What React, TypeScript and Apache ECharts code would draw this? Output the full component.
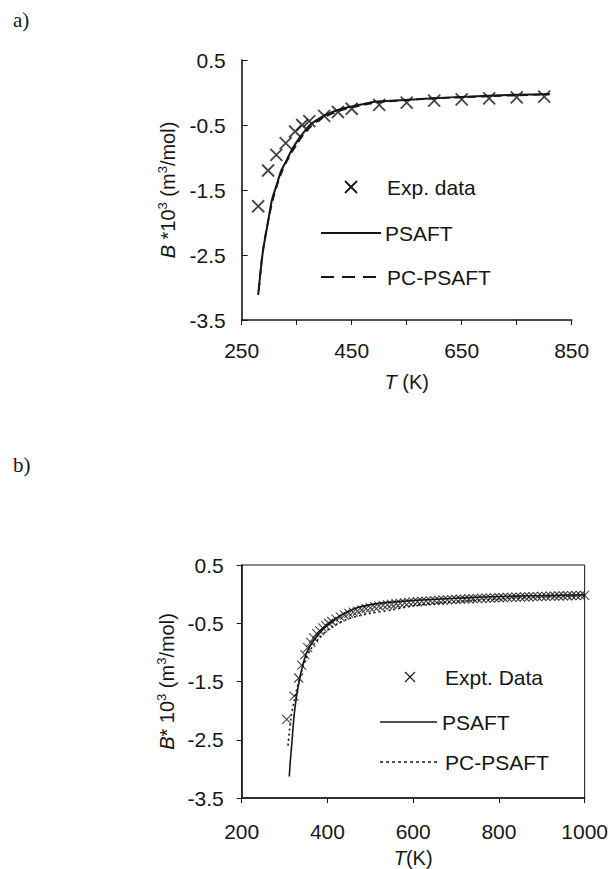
import React, { useEffect, useRef } from "react";
import * as echarts from "echarts";

// ---------- Panel a ----------
const aExpT = [280, 298, 313, 330, 347, 360, 373, 400, 425, 450, 500, 550, 600, 650, 700, 750, 800];
const aExpB = [-1.75, -1.2, -0.96, -0.78, -0.6, -0.5, -0.44, -0.36, -0.3, -0.25, -0.19, -0.155, -0.125, -0.105, -0.09, -0.075, -0.065];
const aPsaftT = [280, 285, 289, 298.5, 305, 313.6, 322, 331.8, 340, 350, 362, 374, 387, 401.5, 425, 447, 470, 495.5, 568, 630, 689, 750, 810];
const aPsaftB = [-3.115, -2.7, -2.42, -1.96, -1.65, -1.42, -1.2, -1.04, -0.9, -0.76, -0.62, -0.5, -0.42, -0.35, -0.27, -0.22, -0.18, -0.14, -0.105, -0.075, -0.054, -0.035, -0.023];
const aPcT = [281, 286, 291, 300, 307, 315, 323, 332, 341, 350, 362, 375, 388, 400, 425, 450, 475, 500, 550, 600, 700, 810];
const aPcB = [-3.05, -2.6, -2.3, -1.9, -1.64, -1.41, -1.22, -1.06, -0.92, -0.8, -0.65, -0.53, -0.44, -0.38, -0.29, -0.23, -0.185, -0.15, -0.115, -0.09, -0.058, -0.03];

// ---------- Panel b ----------
const bExpT = [305, 322, 333, 340, 347, 354, 361, 368, 375, 382, 389, 396, 403, 410, 420, 430, 440, 450, 460, 470, 480, 490, 500, 510, 520, 530, 540, 550, 560, 570, 580, 590, 600, 610, 620, 630, 640, 650, 660, 670, 680, 690, 700, 710, 720, 730, 740, 750, 760, 770, 780, 790, 800, 810, 820, 830, 840, 850, 860, 870, 880, 890, 900, 910, 920, 930, 940, 950, 960, 970, 980, 990, 1000];
const bExpB = [-2.15, -1.75, -1.44, -1.22, -1.04, -0.92, -0.83, -0.75, -0.68, -0.63, -0.58, -0.54, -0.5, -0.47, -0.43, -0.39, -0.36, -0.33, -0.31, -0.29, -0.27, -0.25, -0.235, -0.22, -0.205, -0.195, -0.185, -0.175, -0.165, -0.158, -0.15, -0.143, -0.137, -0.131, -0.126, -0.121, -0.116, -0.111, -0.107, -0.103, -0.099, -0.095, -0.091, -0.088, -0.085, -0.082, -0.079, -0.076, -0.073, -0.07, -0.067, -0.064, -0.062, -0.059, -0.057, -0.055, -0.052, -0.05, -0.048, -0.046, -0.044, -0.042, -0.04, -0.038, -0.036, -0.034, -0.032, -0.03, -0.028, -0.026, -0.024, -0.022, -0.02];
const bPsaftT = [311, 313, 316.5, 322, 328, 334, 340, 347, 355, 365, 375, 390, 406, 430, 452, 480, 530, 608, 700, 763, 850, 1000];
const bPsaftB = [-3.13, -2.9, -2.6, -2.1, -1.75, -1.5, -1.29, -1.1, -0.95, -0.83, -0.73, -0.6, -0.5, -0.37, -0.28, -0.21, -0.15, -0.105, -0.07, -0.05, -0.033, -0.012];
const bPcT = [308, 312, 316, 322, 328, 335, 342, 350, 360, 370, 385, 400, 425, 450, 475, 500, 550, 600, 650, 700, 800, 900, 1000];
const bPcB = [-2.6, -2.3, -2.07, -1.85, -1.64, -1.45, -1.27, -1.1, -0.96, -0.85, -0.72, -0.62, -0.5, -0.42, -0.37, -0.33, -0.27, -0.2, -0.16, -0.13, -0.08, -0.05, -0.03];

const xTicksA = { min: 250, max: 850, interval: 200 };
const yTicks = { min: -3.5, max: 0.5, interval: 1 };
const xTicksB = { min: 200, max: 1000, interval: 200 };

const zip = (xs: number[], ys: number[]) => xs.map((x, i) => [x, ys[i]]);

const INK = "#161616";
const SANS = '"Liberation Sans", Arial, sans-serif';
const SERIF = '"Liberation Serif", "Times New Roman", serif';
const CROSS = "path://M0,0L10,10M10,0L0,10";

const richName = {
  i: { fontStyle: "italic", fontSize: 20, fontFamily: SANS, color: INK, lineHeight: 24 },
  n: { fontSize: 20, fontFamily: SANS, color: INK, lineHeight: 24 },
  s: { fontSize: 13, fontFamily: SANS, color: INK, lineHeight: 13, verticalAlign: "top" },
};

function legendCross(cx: number, cy: number, h: number, w: number) {
  return [
    { type: "line", shape: { x1: cx - h, y1: cy - h, x2: cx + h, y2: cy + h }, style: { stroke: INK, lineWidth: w } },
    { type: "line", shape: { x1: cx - h, y1: cy + h, x2: cx + h, y2: cy - h }, style: { stroke: INK, lineWidth: w } },
  ];
}
function legendText(x: number, y: number, t: string) {
  return { type: "text", x, y, style: { text: t, fontSize: 21, fontFamily: SANS, fill: INK, align: "left", verticalAlign: "middle" } };
}
function legendLine(x1: number, x2: number, y: number, w: number, dash?: number[]) {
  return { type: "line", shape: { x1, y1: y, x2, y2: y }, style: { stroke: INK, lineWidth: w, lineDash: dash } };
}

export default function App() {
  const ref = useRef<HTMLDivElement>(null);
  useEffect(() => {
    document.body.style.margin = "0";
    if (!ref.current) return;
    const chart = echarts.init(ref.current, undefined, { renderer: "svg" });
    const axisLine = { show: true, onZero: false, lineStyle: { color: INK, width: 1.6 } };
    const tickLabel = { color: INK, fontSize: 21, fontFamily: SANS, formatter: (v: number) => String(v) };
    chart.setOption({
      animation: false,
      backgroundColor: "#fff",
      grid: [
        { left: 241.7, top: 60, width: 330, height: 260, show: false },
        { left: 241.7, top: 565, width: 343.3, height: 234, show: true, borderColor: INK, borderWidth: 1, backgroundColor: "transparent" },
      ],
      xAxis: [
        {
          gridIndex: 0, type: "value", ...xTicksA,
          name: "{i|T}{n| (K)}", nameLocation: "middle", nameGap: 50,
          nameTextStyle: { rich: richName },
          axisLine, splitLine: { show: false },
          axisTick: { show: true, inside: false, length: 5, lineStyle: { color: INK, width: 1 } },
          minorTick: { show: true, splitNumber: 2, length: 5, lineStyle: { color: INK, width: 1 } },
          axisLabel: { ...tickLabel, margin: 20 },
        },
        {
          gridIndex: 1, type: "value", ...xTicksB,
          name: "{i|T}{n|(K)}", nameLocation: "middle", nameGap: 48,
          nameTextStyle: { rich: richName },
          axisLine, splitLine: { show: false },
          axisTick: { show: true, inside: false, length: 5, lineStyle: { color: INK, width: 1 } },
          axisLabel: { ...tickLabel, margin: 23 },
        },
      ],
      yAxis: [
        {
          gridIndex: 0, type: "value", ...yTicks,
          name: "{i|B}{n| *10}{s|3}{n| (m}{s|3}{n|/mol)}", nameLocation: "middle", nameGap: 62, nameRotate: 90,
          nameTextStyle: { rich: richName },
          axisLine, splitLine: { show: false },
          axisTick: { show: true, inside: true, length: 6, lineStyle: { color: INK, width: 1 } },
          axisLabel: { ...tickLabel, margin: 16 },
        },
        {
          gridIndex: 1, type: "value", ...yTicks,
          name: "{i|B}{n|* 10}{s|3}{n| (m}{s|3}{n|/mol)}", nameLocation: "middle", nameGap: 60, nameRotate: 90,
          nameTextStyle: { rich: richName },
          axisLine, splitLine: { show: false },
          axisTick: { show: true, inside: false, length: 5, lineStyle: { color: INK, width: 1 } },
          axisLabel: { ...tickLabel, margin: 18 },
        },
      ],
      series: [
        {
          name: "PSAFT a", type: "line", xAxisIndex: 0, yAxisIndex: 0, data: zip(aPsaftT, aPsaftB),
          showSymbol: false, smooth: 0.25, lineStyle: { color: INK, width: 2 },
        },
        {
          name: "PC-PSAFT a", type: "line", xAxisIndex: 0, yAxisIndex: 0, data: zip(aPcT, aPcB),
          showSymbol: false, smooth: 0.25, lineStyle: { color: INK, width: 1.8, type: [8, 5] },
        },
        {
          name: "Exp. data", type: "scatter", xAxisIndex: 0, yAxisIndex: 0, data: zip(aExpT, aExpB),
          symbol: CROSS, symbolSize: 12,
          itemStyle: { color: "transparent", borderColor: INK, borderWidth: 1.8 },
        },
        {
          name: "PSAFT b", type: "line", xAxisIndex: 1, yAxisIndex: 1, data: zip(bPsaftT, bPsaftB),
          showSymbol: false, smooth: 0.2, lineStyle: { color: INK, width: 1.6 },
        },
        {
          name: "PC-PSAFT b", type: "line", xAxisIndex: 1, yAxisIndex: 1, data: zip(bPcT, bPcB),
          showSymbol: false, smooth: 0.2, lineStyle: { color: INK, width: 1.6, type: [2, 3] },
        },
        {
          name: "Expt. Data", type: "scatter", xAxisIndex: 1, yAxisIndex: 1, data: zip(bExpT, bExpB),
          symbol: CROSS, symbolSize: 9,
          itemStyle: { color: "transparent", borderColor: INK, borderWidth: 1.1 },
        },
      ],
      graphic: [
        { type: "text", x: 13, y: 20, style: { text: "a)", fontSize: 21, fontFamily: SERIF, fill: INK, verticalAlign: "middle" } },
        { type: "text", x: 13, y: 465, style: { text: "b)", fontSize: 21, fontFamily: SERIF, fill: INK, verticalAlign: "middle" } },
        ...legendCross(351, 187, 6, 1.8),
        legendText(387, 187, "Exp. data"),
        legendLine(321, 381, 233, 2),
        legendText(385, 233, "PSAFT"),
        legendLine(321, 381, 277, 1.8, [13, 8]),
        legendText(387, 277, "PC-PSAFT"),
        ...legendCross(410, 677, 5, 1.1),
        legendText(445, 677, "Expt. Data"),
        legendLine(380, 437, 722, 1.6),
        legendText(442, 722, "PSAFT"),
        legendLine(380, 437, 762, 1.4, [3, 3]),
        legendText(445, 762, "PC-PSAFT"),
      ],
    });
    return () => chart.dispose();
  }, []);
  return <div ref={ref} style={{ width: 611, height: 869 }} />;
}
